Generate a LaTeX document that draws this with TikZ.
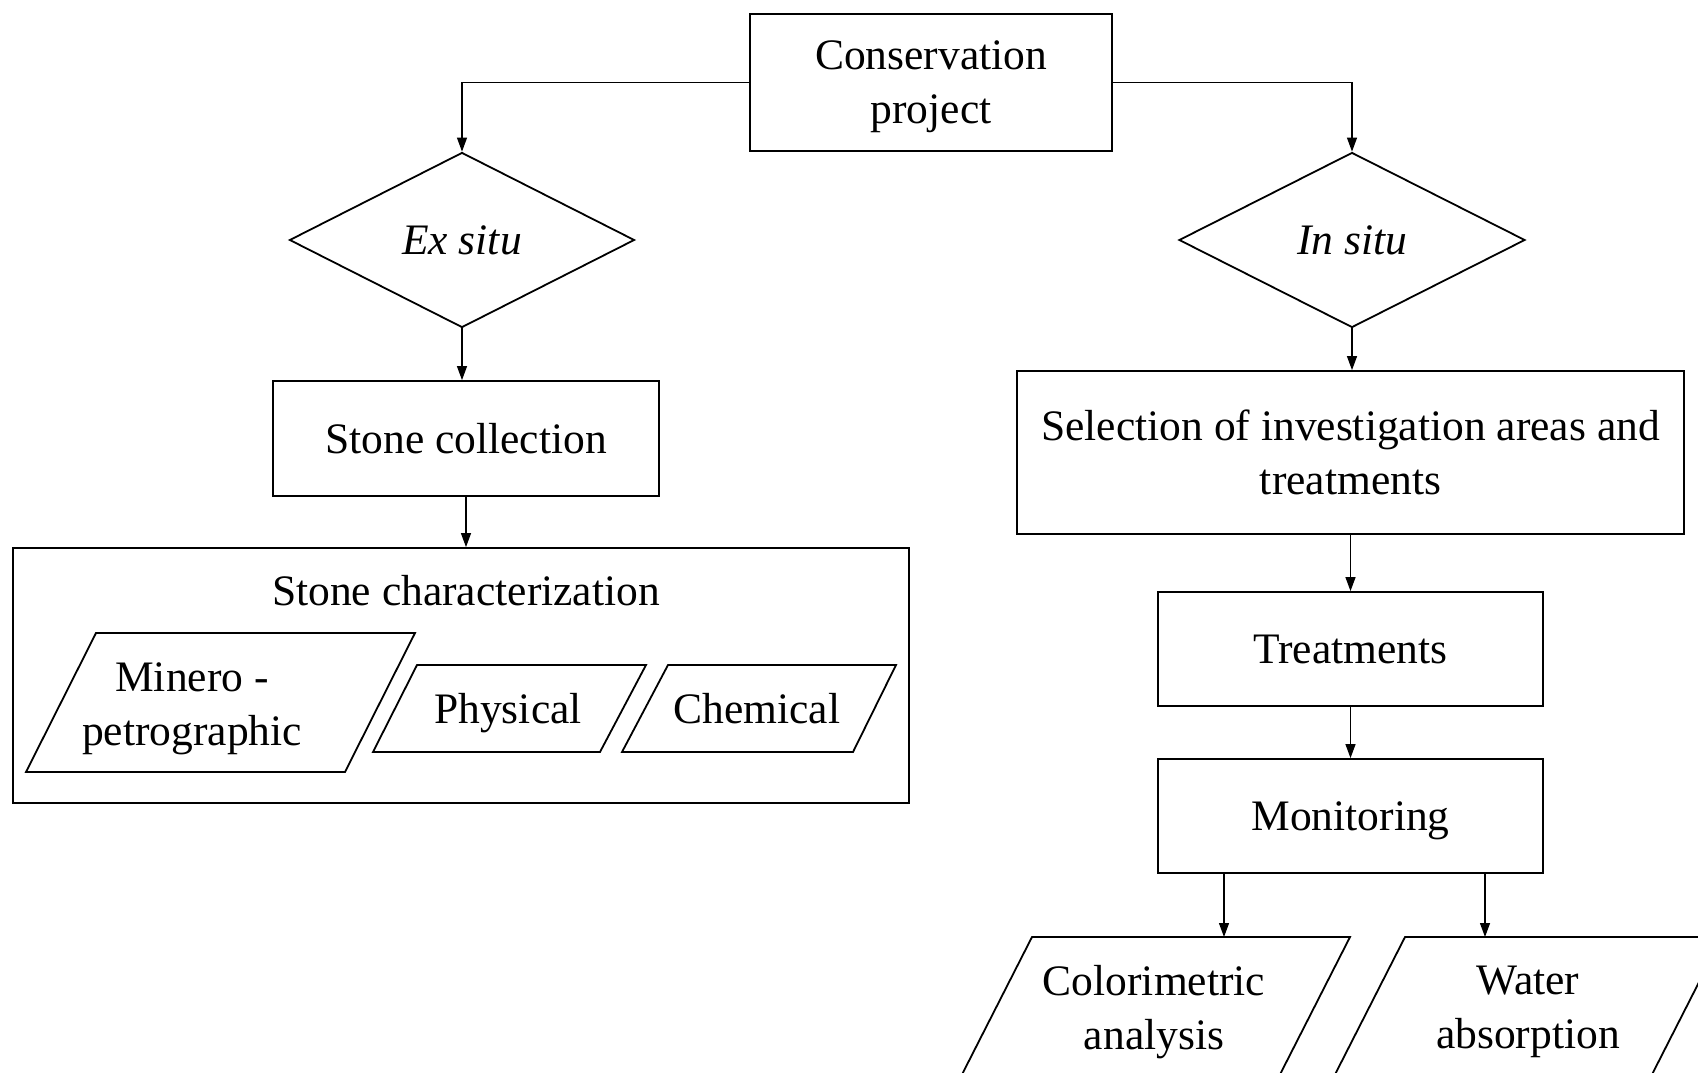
\documentclass[tikz,border=0pt]{standalone}
\usepackage{fontspec}
\setmainfont{Liberation Serif}
\usetikzlibrary{shapes.geometric,arrows.meta}
\begin{document}
\begin{tikzpicture}[x=1pt,y=-1pt,
  every node/.style={font=\fontsize{43.5}{54}\selectfont, inner sep=0pt, text depth=0pt},
  box/.style={draw, line width=1.8pt, rectangle, align=center},
  dia/.style={draw, line width=1.8pt, diamond, aspect=2},
  shp/.style={draw, line width=1.8pt, line join=miter},
  conn/.style={line width=1.2pt, -{Triangle[length=14pt,width=10pt]}},
  lbl/.style={align=center}]
\path[use as bounding box, fill=white] (0,0) rectangle (1698,1073);
\clip (0,0) rectangle (1698,1073);

% main nodes
\node[box, minimum width=362pt, minimum height=137pt] (cp) at (931,82.5) {Conservation\\project};
\node[dia, minimum width=345pt, minimum height=175pt] (ex) at (462,240) {\itshape Ex situ};
\node[dia, minimum width=346pt, minimum height=175pt] (ins) at (1352,240) {\itshape In situ};
\node[box, minimum width=386pt, minimum height=115pt] (sc) at (466,438.5) {Stone collection};
\node[box, minimum width=896pt, minimum height=255pt] (char) at (461,675.5) {};
\node[lbl] (chartitle) at (466,590) {Stone characterization};
\node[box, minimum width=667pt, minimum height=163pt] (sel) at (1350.5,452.5) {Selection of investigation areas and\\treatments};
\node[box, minimum width=385pt, minimum height=114pt] (tr) at (1350.5,649) {Treatments};
\node[box, minimum width=385pt, minimum height=114pt] (mon) at (1350.5,816) {Monitoring};

% parallelograms
\draw[shp] (96,633) -- (415,633) -- (345,772) -- (26,772) -- cycle;
\node[lbl] (minero) at (192,704) {Minero -\\petrographic};
\draw[shp] (417,665) -- (646,665) -- (600,752) -- (373,752) -- cycle;
\node[lbl] (phys) at (508,708) {Physical};
\draw[shp] (668,665) -- (896,665) -- (853,752) -- (622,752) -- cycle;
\node[lbl] (chem) at (757,708) {Chemical};
\draw[shp] (1032,937) -- (1350,937) -- (1267,1100) -- (949,1100) -- cycle;
\node[lbl] (color) at (1154,1007) {Colorimetric\\analysis};
\draw[shp] (1405,937) -- (1722,937) -- (1639,1100) -- (1322,1100) -- cycle;
\node[lbl] (water) at (1528,1007) {Water\\absorption};

\coordinate (ctop) at (1224,937);
\coordinate (wtop) at (1485,937);

% connectors
\draw[conn] (cp.west) -| (ex.north);
\draw[conn] (cp.east) -| (ins.north);
\draw[conn] (ex.south) -- (ex.south |- sc.north);
\draw[conn] (sc.south) -- (sc.south |- char.north);
\draw[conn] (ins.south) -- (ins.south |- sel.north);
\draw[conn] (sel.south) -- (sel.south |- tr.north);
\draw[conn] (tr.south) -- (mon.north);
\draw[conn] (mon.south -| ctop) -- (ctop);
\draw[conn] (mon.south -| wtop) -- (wtop);
\end{tikzpicture}
\end{document}
